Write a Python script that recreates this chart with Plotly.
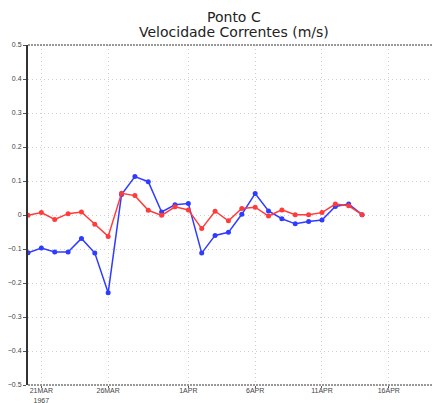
import plotly.graph_objects as go
import pandas as pd

# serie diaria, Ponto C
dates = pd.date_range("1967-03-20", periods=26, freq="D")
blue_vals = [-0.111, -0.097, -0.109, -0.109, -0.069, -0.112, -0.229, 0.06, 0.113, 0.098,
             0.009, 0.030, 0.034, -0.112, -0.060, -0.051, 0.002, 0.063, 0.012, -0.011,
             -0.026, -0.019, -0.015, 0.025, 0.032, 0.001]
red_vals = [-0.001, 0.007, -0.013, 0.004, 0.009, -0.027, -0.063, 0.064, 0.057, 0.014,
            -0.001, 0.024, 0.015, -0.040, 0.011, -0.017, 0.019, 0.023, -0.003, 0.015,
            0.001, 0.001, 0.007, 0.032, 0.027, 0.001]

tick_dates = ["1967-03-21", "1967-03-26", "1967-04-01", "1967-04-06", "1967-04-11", "1967-04-16"]
tick_text = ["21MAR<br>1967", "26MAR", "1APR", "6APR", "11APR", "16APR"]
y_ticks = [-0.5, -0.4, -0.3, -0.2, -0.1, 0, 0.1, 0.2, 0.3, 0.4, 0.5]
y_text = ["−0.5", "−0.4", "−0.3", "−0.2", "−0.1", "0", "0.1", "0.2", "0.3", "0.4", "0.5"]

BLUE = "#2f3cff"
RED = "#ff3c3c"

fig = go.Figure()
fig.add_trace(go.Scatter(
    x=dates, y=blue_vals, mode="lines+markers",
    line={"color": BLUE, "width": 1.5},
    marker={"color": BLUE, "size": 5},
))
fig.add_trace(go.Scatter(
    x=dates, y=red_vals, mode="lines+markers",
    line={"color": RED, "width": 1.5},
    marker={"color": RED, "size": 5},
))

# moldura tracejada em cima e embaixo
for yy in (0, 1):
    fig.add_shape(type="line", xref="paper", yref="paper", x0=0, x1=1, y0=yy, y1=yy,
                  line={"color": "#333333", "width": 1, "dash": "2px,1px"})

# titulo em duas linhas
title_font = {"family": "DejaVu Sans", "size": 14, "color": "#222222"}
fig.add_annotation(text="Ponto C", xref="paper", yref="paper", x=0.5, y=1.082,
                   xanchor="center", yanchor="middle", showarrow=False, font=title_font)
fig.add_annotation(text="Velocidade Correntes (m/s)", xref="paper", yref="paper", x=0.5, y=1.038,
                   xanchor="center", yanchor="middle", showarrow=False, font=title_font)

# a pagina tem 8px de margem no body
fig.update_layout(
    width=432, height=395,
    showlegend=False,
    plot_bgcolor="white", paper_bgcolor="white",
    margin={"l": 20, "r": 0, "t": 37, "b": 18},
)
fig.update_xaxes(
    range=["1967-03-20", "1967-04-19 20:00"],
    tickvals=tick_dates, ticktext=tick_text,
    tickfont={"family": "Liberation Sans", "size": 7, "color": "#444444"},
    ticks="outside", ticklen=2, tickcolor="#555555", ticklabelstandoff=-3,
    showgrid=True, gridcolor="#d0d0d0", griddash="1px,3px", gridwidth=1,
    showline=False, zeroline=False, automargin=False,
)
fig.update_yaxes(
    range=[-0.5, 0.5],
    tickvals=y_ticks, ticktext=y_text,
    tickfont={"family": "Liberation Sans", "size": 7, "color": "#444444"},
    ticks="outside", ticklen=3, tickcolor="#555555",
    showgrid=True, gridcolor="#d0d0d0", griddash="1px,3px", gridwidth=1,
    showline=True, linecolor="#333333", linewidth=2,
    zeroline=False, automargin=False,
)

fig.write_html("out.html")
